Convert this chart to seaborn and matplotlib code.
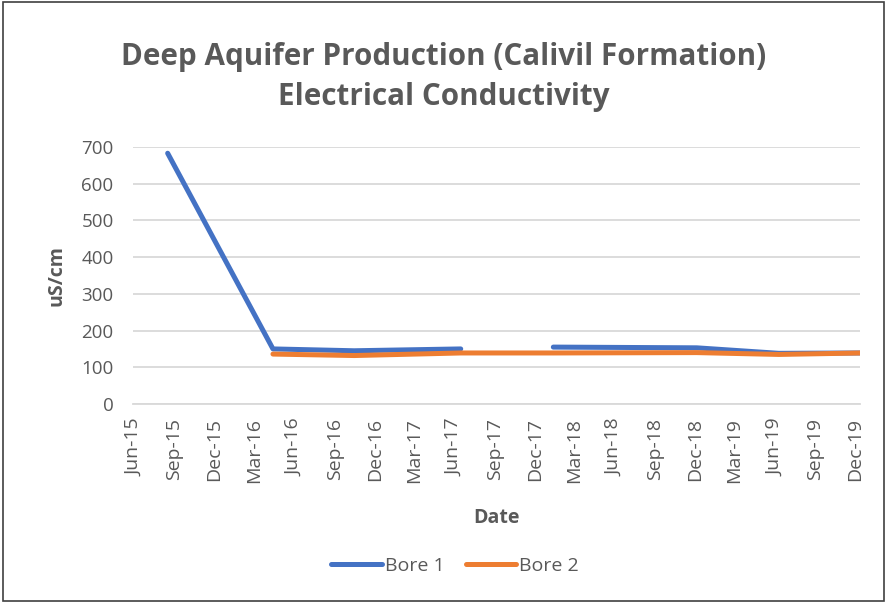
import pandas as pd
import numpy as np
import matplotlib
matplotlib.use("Agg")
import matplotlib.pyplot as plt
import matplotlib.dates as mdates
from matplotlib.lines import Line2D
from matplotlib.patches import Rectangle
import seaborn as sns

# ---------------------------------------------------------------------------
# data
# ---------------------------------------------------------------------------
bore1_dates = ["2015-08-17", "2016-04-13", "2016-10-15", "2017-06-15",
               "2018-01-12", "2018-12-05", "2019-06-10", "2019-12-15"]
bore1_values = [683, 150, 145, 150, 155, 153, 138, 139]
bore1_segment = [0, 0, 0, 0, 1, 1, 1, 1]   # gap between Jun-17 and Jan-18

bore2_dates = ["2016-04-13", "2016-10-15", "2017-06-15", "2018-01-12",
               "2018-12-05", "2019-06-10", "2019-12-15"]
bore2_values = [136, 132, 139, 139, 140, 135, 139]

tick_dates = pd.date_range("2015-06-01", "2019-12-01", freq="3MS")
y_ticks = [0, 100, 200, 300, 400, 500, 600, 700]

title = "Deep Aquifer Production (Calivil Formation)\nElectrical Conductivity"
colors = {"Bore 1": "#4472C4", "Bore 2": "#ED7D31"}
grey = "#595959"

# ---------------------------------------------------------------------------
# build long table
# ---------------------------------------------------------------------------
df1 = pd.DataFrame({"Date": pd.to_datetime(bore1_dates), "EC": bore1_values,
                    "Bore": "Bore 1", "seg": bore1_segment})
df2 = pd.DataFrame({"Date": pd.to_datetime(bore2_dates), "EC": bore2_values,
                    "Bore": "Bore 2", "seg": 0})
df = pd.concat([df1, df2], ignore_index=True)
df["unit"] = df["Bore"] + "_" + df["seg"].astype(str)

# ---------------------------------------------------------------------------
# plot
# ---------------------------------------------------------------------------
sns.set_style("white")
plt.rcParams["font.family"] = ["Open Sans", "DejaVu Sans"]

fig = plt.figure(figsize=(8.87, 6.03), dpi=100)
ax = fig.add_axes([133 / 887, 1 - 404 / 603, (860 - 133) / 887, (404 - 147) / 603])

sns.lineplot(data=df, x="Date", y="EC", hue="Bore", units="unit",
             estimator=None, palette=colors, linewidth=3.6, ax=ax,
             legend=False, sort=True)
for ln in ax.get_lines():
    ln.set_solid_capstyle("round")
    ln.set_solid_joinstyle("round")
# orange on top, like the original
ax.get_lines()[-1].set_zorder(3)

ax.set_xlim(pd.Timestamp("2015-05-30"), pd.Timestamp("2019-12-12"))
ax.set_ylim(0, 700)
ax.set_yticks(y_ticks)
ax.set_xticks(tick_dates)
ax.xaxis.set_major_formatter(mdates.DateFormatter("%b-%y"))
ax.tick_params(axis="x", rotation=90, labelsize=14, colors=grey,
               length=5, width=1, direction="out", pad=5)
ax.tick_params(axis="x", color="#d9d9d9")
ax.tick_params(axis="y", labelsize=13.5, colors=grey, length=0, pad=14)

ax.grid(axis="y", color="#d9d9d9", linewidth=1.3)
ax.set_axisbelow(True)
for side in ["top", "right", "left"]:
    ax.spines[side].set_visible(False)
ax.spines["bottom"].set_color("#d9d9d9")
ax.spines["bottom"].set_linewidth(1.3)

ax.set_xlabel("Date", fontsize=14, fontweight="bold", color=grey)
ax.xaxis.set_label_coords(0.5, (404 - 518) / 257)
ax.xaxis.label.set_va("center")
ax.set_ylabel("uS/cm", fontsize=14, fontweight="bold", color=grey)
ax.yaxis.set_label_coords((57 - 133) / 727, 0.5)
ax.yaxis.label.set_va("center")

fig.text(0.5, 1 - 77 / 603, title, ha="center", va="center", fontsize=21.3,
         fontweight="bold", color=grey, linespacing=1.42)

handles = [Line2D([0], [0], color=colors[b], linewidth=3.6,
                  solid_capstyle="round") for b in ["Bore 1", "Bore 2"]]
fig.legend(handles, ["Bore 1", "Bore 2"], loc="center",
           bbox_to_anchor=(455 / 887, 1 - 566 / 603), ncol=2, frameon=False,
           fontsize=14, labelcolor=grey, handlelength=2.6, handletextpad=0.15,
           columnspacing=1.1)

fig.add_artist(Rectangle((0.003, 0.004), 0.994, 0.993, transform=fig.transFigure,
                         fill=False, edgecolor="#404040", linewidth=1.2))

fig.savefig("out.png", dpi=100)
